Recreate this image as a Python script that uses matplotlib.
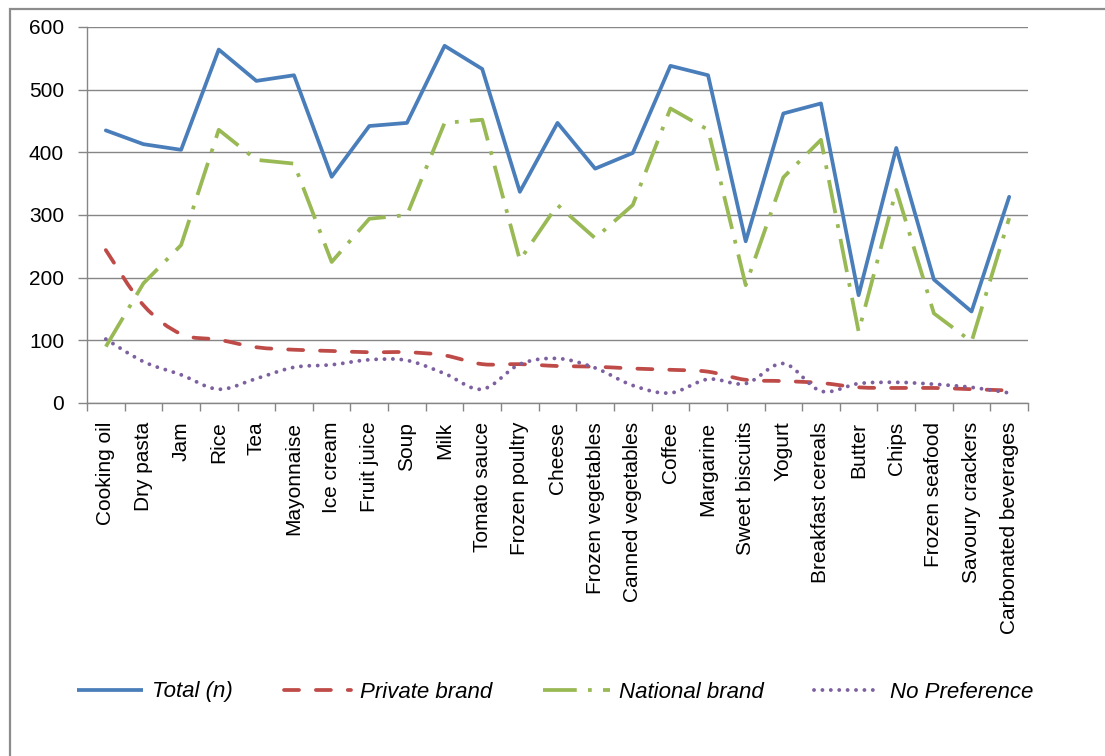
import matplotlib
matplotlib.use("Agg")
import matplotlib.pyplot as plt
from matplotlib.path import Path
from matplotlib.patches import PathPatch, Rectangle
from matplotlib.lines import Line2D
import numpy as np

plt.rcParams['font.family'] = ['Liberation Sans', 'DejaVu Sans']

categories = ["Cooking oil", "Dry pasta", "Jam", "Rice", "Tea", "Mayonnaise", "Ice cream",
              "Fruit juice", "Soup", "Milk", "Tomato sauce", "Frozen poultry", "Cheese",
              "Frozen vegetables", "Canned vegetables", "Coffee", "Margarine", "Sweet biscuits",
              "Yogurt", "Breakfast cereals", "Butter", "Chips", "Frozen seafood",
              "Savoury crackers", "Carbonated beverages"]

total = [435, 413, 404, 564, 514, 523, 361, 442, 447, 570, 533, 337, 447, 374, 399,
         538, 523, 258, 462, 478, 172, 407, 197, 146, 329]
private_brand = [244, 156, 110, 101, 89, 85, 83, 81, 81, 76, 62, 62, 59, 58, 55,
                 53, 50, 37, 35, 32, 25, 24, 24, 22, 20]
national_brand = [90, 191, 252, 436, 388, 382, 225, 294, 300, 447, 452, 228, 316, 263, 316,
                  470, 436, 188, 360, 420, 114, 340, 143, 98, 295]
no_preference = [102, 66, 45, 22, 39, 57, 61, 69, 68, 47, 22, 62, 71, 56, 28,
                 16, 38, 31, 63, 19, 31, 33, 30, 25, 16]

series_labels = ["Total (n)", "Private brand", "National brand", "No Preference"]
y_ticks = [0, 100, 200, 300, 400, 500, 600]

BLUE = "#4A7EBB"
RED = "#BE4B48"
GREEN = "#98B954"
PURPLE = "#7D60A0"
GRAY = "#868686"

RED_LS = (0, (4, 4.5))
GREEN_LS = (0, (9, 3, 1, 3))
PURPLE_LS = (0, (0.01, 2.15))


def smooth_path(xs, ys):
    """Catmull-Rom style Bezier path through the data points (Excel 'smoothed line')."""
    n = len(xs)
    verts = [(xs[0], ys[0])]
    codes = [Path.MOVETO]
    for i in range(n - 1):
        i0 = max(i - 1, 0)
        i3 = min(i + 2, n - 1)
        c1 = (xs[i] + (xs[i + 1] - xs[i0]) / 6.0, ys[i] + (ys[i + 1] - ys[i0]) / 6.0)
        c2 = (xs[i + 1] - (xs[i3] - xs[i]) / 6.0, ys[i + 1] - (ys[i3] - ys[i]) / 6.0)
        verts += [c1, c2, (xs[i + 1], ys[i + 1])]
        codes += [Path.CURVE4] * 3
    return Path(verts, codes)


fig = plt.figure(figsize=(11.05, 7.56), dpi=100)
ax = fig.add_axes([87 / 1105, 1 - 403 / 756, (1028 - 87) / 1105, (403 - 27) / 756])

x = np.arange(len(categories), dtype=float)

ax.plot(x, total, color=BLUE, lw=2.7, solid_joinstyle='round', solid_capstyle='round', zorder=3)

red_patch = PathPatch(smooth_path(x, private_brand), facecolor='none', edgecolor=RED,
                      lw=2.7, linestyle=RED_LS, capstyle='round',
                      transform=ax.transData, zorder=4)
ax.add_patch(red_patch)

ax.plot(x, national_brand, color=GREEN, lw=2.7, ls=GREEN_LS,
        dash_capstyle='butt', dash_joinstyle='round', zorder=5)

purple_patch = PathPatch(smooth_path(x, no_preference), facecolor='none', edgecolor=PURPLE,
                         lw=2.8, linestyle=PURPLE_LS, capstyle='round',
                         transform=ax.transData, zorder=6)
ax.add_patch(purple_patch)

ax.set_xlim(-0.5, len(categories) - 0.5)
ax.set_ylim(0, 600)
ax.set_yticks(y_ticks)
ax.set_yticklabels([str(v) for v in y_ticks])
ax.set_xticks(x)
ax.set_xticklabels(categories, rotation=90, ha='center', va='top')
ax.set_xticks(np.arange(-0.5, len(categories), 1.0), minor=True)

ax.yaxis.grid(True, color=GRAY, lw=1.0)
ax.set_axisbelow(True)
for s in ['top', 'right']:
    ax.spines[s].set_visible(False)
for s in ['left', 'bottom']:
    ax.spines[s].set_color(GRAY)
    ax.spines[s].set_linewidth(1.0)

ax.tick_params(axis='y', length=6.5, width=1, color=GRAY, pad=10, labelsize=15, labelcolor='black')
ax.tick_params(axis='x', which='major', length=0, pad=13.5, labelsize=15, labelcolor='black')
ax.tick_params(axis='x', which='minor', length=6, width=1, color=GRAY)

handles = [
    Line2D([], [], color=BLUE, lw=2.7, solid_capstyle='butt'),
    Line2D([], [], color=RED, lw=2.7, ls=RED_LS, dash_capstyle='round'),
    Line2D([], [], color=GREEN, lw=2.7, ls=GREEN_LS, dash_capstyle='butt'),
    Line2D([], [], color=PURPLE, lw=2.8, ls=PURPLE_LS, dash_capstyle='round'),
]
fig.legend(handles, series_labels, loc='center', bbox_to_anchor=(555 / 1105, 1 - 692 / 756),
           ncol=4, frameon=False, prop={'style': 'italic', 'size': 16},
           handlelength=3.0, handletextpad=0.4, columnspacing=2.3)

fig.add_artist(Rectangle((10 / 1105, -0.5), 2.0, 0.5 + (1 - 9 / 756), transform=fig.transFigure,
                         fill=False, edgecolor="#8c8c8c", lw=1.6))

fig.savefig("out.png", dpi=100)
